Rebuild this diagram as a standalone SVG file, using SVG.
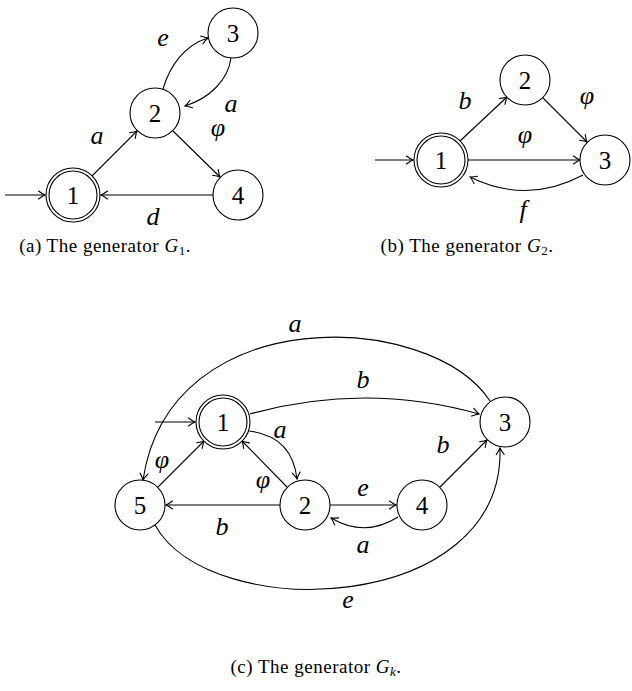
<svg xmlns="http://www.w3.org/2000/svg" width="632" height="691" viewBox="0 0 632 691">
<defs>
<marker id="arr" viewBox="-8 -5 10 10" refX="0" refY="0" markerWidth="10" markerHeight="10" markerUnits="userSpaceOnUse" orient="auto">
<path d="M-6.5,-4 Q-2.5,-1 0,0 Q-2.5,1 -6.5,4" fill="none" stroke="#000" stroke-width="1.1" stroke-linecap="round"/>
</marker>
</defs>
<style>
.n{fill:#fff;stroke:#000;stroke-width:1.1}
.d{fill:none;stroke:#000;stroke-width:1.1}
.e{fill:none;stroke:#000;stroke-width:1.1;marker-end:url(#arr)}
.num{font-family:"Liberation Serif",serif;font-size:25px;text-anchor:middle}
.lb{font-family:"Liberation Serif",serif;font-size:26px;font-style:italic;text-anchor:middle}
.cap{font-family:"Liberation Serif",serif;font-size:19px;text-anchor:middle;letter-spacing:0.5px}
</style>
<rect width="632" height="691" fill="#fff"/>
<g id="edges">
<!-- G1 -->
<path class="e" d="M5,195 L45,195"/>
<path class="e" d="M92,176 L137,131"/>
<path class="e" d="M173,131 L220,177"/>
<path class="e" d="M213,195 L101,195"/>
<path class="e" d="M163,89 C170,65 185,45 208,38"/>
<path class="e" d="M231,58 C228,80 210,98 185,106"/>
<!-- G2 -->
<path class="e" d="M375,160 L413,160"/>
<path class="e" d="M460,141 L507,97"/>
<path class="e" d="M543,98 L587,142"/>
<path class="e" d="M468,160 L580,160"/>
<path class="e" d="M583,175 Q527,205 470,177"/>
<!-- Gk -->
<path class="e" d="M155,422 L195,422"/>
<path class="e" d="M490,401 C430,310 170,300 143,480"/>
<path class="e" d="M250,414 Q365,382 479,414"/>
<path class="e" d="M249,431 Q292,436 297,479"/>
<path class="e" d="M287,487 L242,441"/>
<path class="e" d="M158,487 L204,441"/>
<path class="e" d="M280,505 L166,505"/>
<path class="e" d="M330,505 L396,505"/>
<path class="e" d="M398,517 Q365,538 331,518"/>
<path class="e" d="M440,487 L487,440"/>
<path class="e" d="M155,525 C210,625 505,615 500,448"/>
</g>
<g id="g1-n1"><circle class="n" cx="73" cy="195" r="27"/><circle class="d" cx="73" cy="195" r="24"/><text class="num" x="73" y="204">1</text></g>
<g id="g1-n2"><circle class="n" cx="155" cy="113" r="25"/><text class="num" x="155" y="122">2</text></g>
<g id="g1-n3"><circle class="n" cx="233" cy="33" r="25"/><text class="num" x="233" y="42">3</text></g>
<g id="g1-n4"><circle class="n" cx="238" cy="195" r="25"/><text class="num" x="238" y="204">4</text></g>
<g id="g2-n1"><circle class="n" cx="441" cy="160" r="27"/><circle class="d" cx="441" cy="160" r="24"/><text class="num" x="441" y="169">1</text></g>
<g id="g2-n2"><circle class="n" cx="525" cy="80" r="25"/><text class="num" x="525" y="89">2</text></g>
<g id="g2-n3"><circle class="n" cx="605" cy="160" r="25"/><text class="num" x="605" y="169">3</text></g>
<g id="gk-n1"><circle class="n" cx="223" cy="422" r="27"/><circle class="d" cx="223" cy="422" r="24"/><text class="num" x="223" y="431">1</text></g>
<g id="gk-n2"><circle class="n" cx="305" cy="505" r="25"/><text class="num" x="305" y="514">2</text></g>
<g id="gk-n3"><circle class="n" cx="505" cy="422" r="25"/><text class="num" x="505" y="431">3</text></g>
<g id="gk-n4"><circle class="n" cx="422" cy="505" r="25"/><text class="num" x="422" y="514">4</text></g>
<g id="gk-n5"><circle class="n" cx="140" cy="505" r="25"/><text class="num" x="140" y="514">5</text></g>
<g id="labels">
<text class="lb" x="163" y="46">e</text>
<text class="lb" x="231" y="112">a</text>
<text class="lb" x="97" y="144">a</text>
<text class="lb" x="218" y="136">φ</text>
<text class="lb" x="153" y="225">d</text>
<text class="lb" x="465" y="109">b</text>
<text class="lb" x="587" y="104">φ</text>
<text class="lb" x="525" y="143">φ</text>
<text class="lb" x="523" y="218">f</text>
<text class="lb" x="295" y="332">a</text>
<text class="lb" x="363" y="388">b</text>
<text class="lb" x="280" y="438">a</text>
<text class="lb" x="263" y="488">φ</text>
<text class="lb" x="162" y="468">φ</text>
<text class="lb" x="222" y="535">b</text>
<text class="lb" x="363" y="496">e</text>
<text class="lb" x="363" y="553">a</text>
<text class="lb" x="443" y="453">b</text>
<text class="lb" x="348" y="608">e</text>
</g>
<g id="captions">
<text class="cap" x="105" y="252">(a) The generator <tspan font-style="italic">G</tspan><tspan font-size="13" dy="3">1</tspan><tspan dy="-3">.</tspan></text>
<text class="cap" x="467" y="252">(b) The generator <tspan font-style="italic">G</tspan><tspan font-size="13" dy="3">2</tspan><tspan dy="-3">.</tspan></text>
<text class="cap" x="316" y="673">(c) The generator <tspan font-style="italic">G</tspan><tspan font-size="13" font-style="italic" dy="3">k</tspan><tspan dy="-3">.</tspan></text>
</g>
</svg>
